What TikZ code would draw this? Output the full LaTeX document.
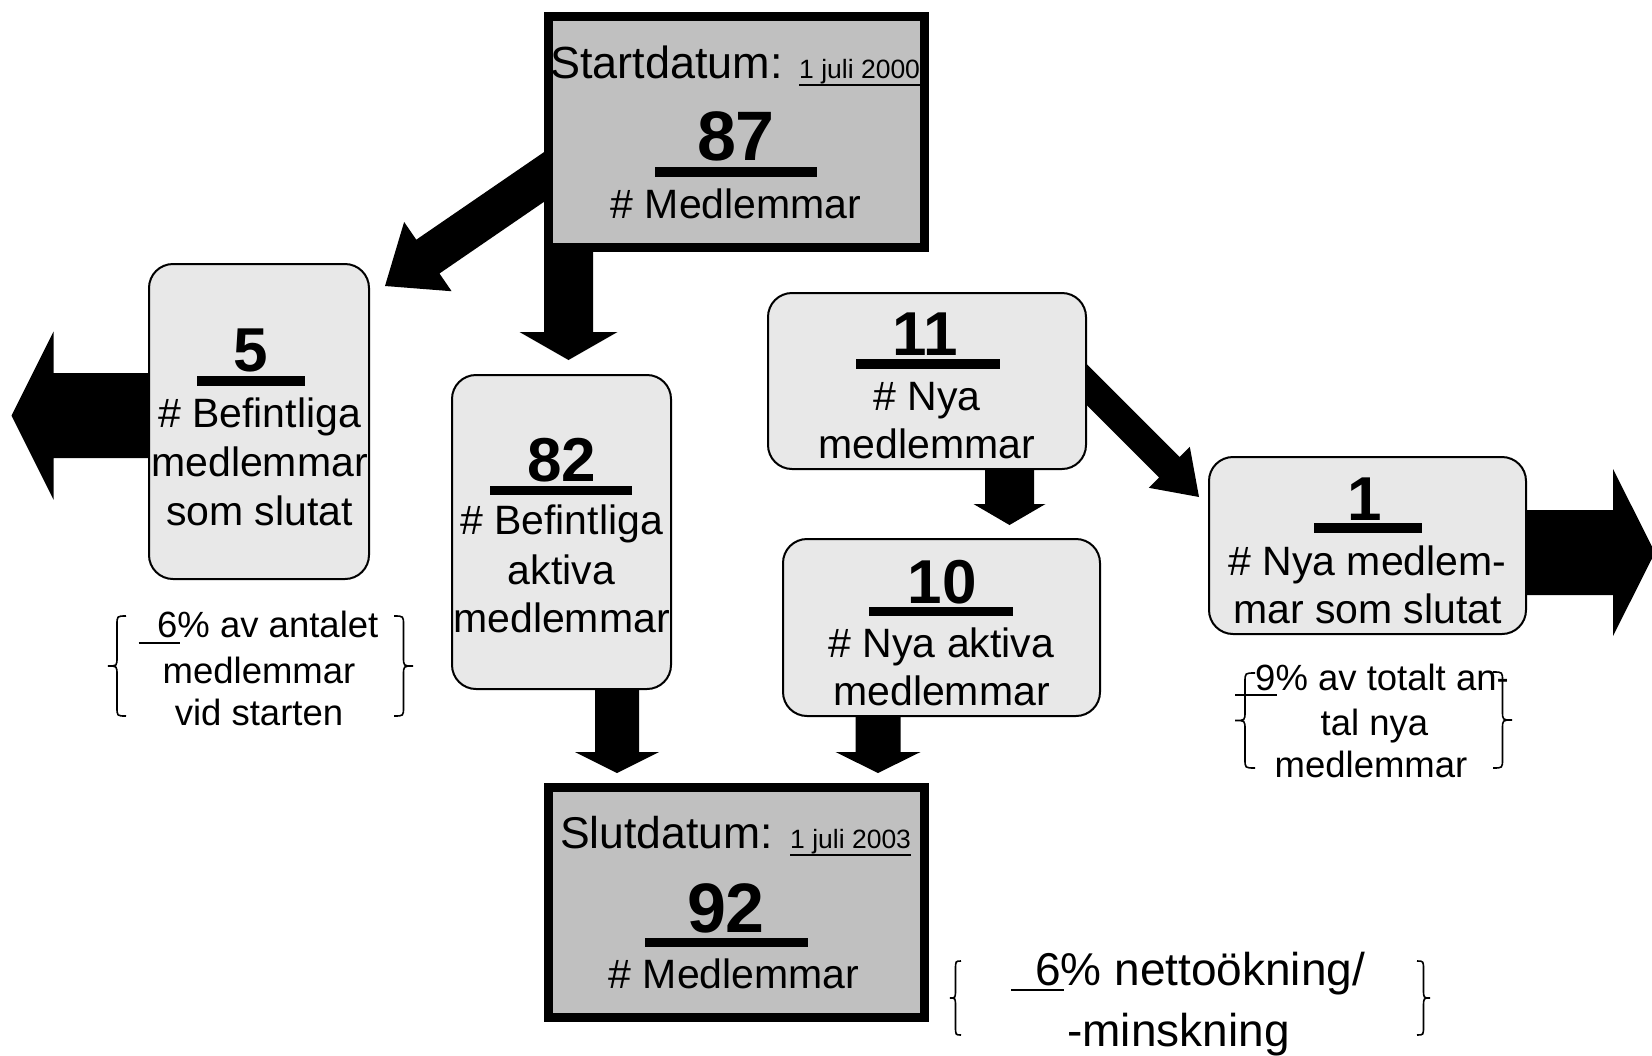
\documentclass[tikz,border=0pt]{standalone}
\usepackage{fontspec}
\setmainfont{Liberation Sans}
\usetikzlibrary{calc}
\definecolor{boxgray}{HTML}{C0C0C0}
\definecolor{softgray}{HTML}{E8E8E8}

\newcommand\blkarrow[5]{%
  \path let \p1=(#1), \p2=(#2) in
    \pgfextra{%
      \pgfmathsetmacro\baang{atan2(\y2-\y1,\x2-\x1)}%
      \pgfmathsetmacro\balen{veclen(\x2-\x1,\y2-\y1)}%
      \global\let\baangG\baang \global\let\balenG\balen}%
    ;
  \begin{scope}[shift={(#1)}, rotate=\baangG]
    \fill (0,#3) -- ({\balenG-#5},#3) -- ({\balenG-#5},#4) -- (\balenG,0)
      -- ({\balenG-#5},-#4) -- ({\balenG-#5},-#3) -- (0,-#3) -- cycle;
  \end{scope}%
}

\newcommand\mybrace[4]{%
  \pgfmathsetmacro\bxm{(#1+#2)/2}\pgfmathsetmacro\bym{(#3+#4)/2}%
  \draw[bracestyle] (#2,#3) .. controls (\bxm,#3) .. (\bxm,#3+9) -- (\bxm,\bym-9)
    .. controls (\bxm,\bym) .. (#1,\bym) .. controls (\bxm,\bym) .. (\bxm,\bym+9)
    -- (\bxm,#4-9) .. controls (\bxm,#4) .. (#2,#4);%
}

\begin{document}
\begin{tikzpicture}[x=1pt,y=-1pt,
  bigbox/.style={draw, line width=9pt, fill=boxgray, minimum width=376pt, minimum height=231pt, inner sep=0pt},
  softbox/.style={draw, line width=2pt, fill=softgray, rounded corners=24pt, inner sep=0pt},
  txt/.style={inner sep=0pt, anchor=base, font=\fontsize{41}{49}\selectfont},
  datetxt/.style={inner sep=0pt, anchor=base west, font=\fontsize{44.5}{52}\selectfont},
  smalldate/.style={inner sep=0pt, anchor=base west, font=\fontsize{26.5}{32}\selectfont},
  num/.style={inner sep=0pt, anchor=base, font=\bfseries\fontsize{62}{70}\selectfont},
  bignum/.style={inner sep=0pt, anchor=base, font=\bfseries\fontsize{70}{80}\selectfont},
  note/.style={inner sep=0pt, anchor=base, font=\fontsize{36.5}{44}\selectfont},
  bignote/.style={inner sep=0pt, anchor=base west, font=\fontsize{46}{54}\selectfont},
  bracestyle/.style={line width=1.6pt},
  uline/.style={line width=2pt}
]
\useasboundingbox (0,0) rectangle (1652,1055);

% block arrows (drawn first, boxes cover their tails)
\coordinate (a1s) at (560,166);   \coordinate (a1e) at (385,286);
\blkarrow{a1s}{a1e}{20.5}{42}{52}
\coordinate (a2s) at (568.5,240); \coordinate (a2e) at (568.5,360);
\blkarrow{a2s}{a2e}{24.5}{49}{28}
\coordinate (a3s) at (617,680);   \coordinate (a3e) at (617,773);
\blkarrow{a3s}{a3e}{22}{42}{21}
\coordinate (a4s) at (878,705);   \coordinate (a4e) at (878,773);
\blkarrow{a4s}{a4e}{22.5}{42.5}{21}
\coordinate (a5s) at (1009.5,460); \coordinate (a5e) at (1009.5,525);
\blkarrow{a5s}{a5e}{24.5}{36}{21}
\coordinate (a6s) at (1070,368);  \coordinate (a6e) at (1199,497);
\blkarrow{a6s}{a6e}{14.5}{29}{42}
\coordinate (a7s) at (200,415.5); \coordinate (a7e) at (11.5,415.5);
\blkarrow{a7s}{a7e}{42.5}{84}{42}
\coordinate (a8s) at (1400,552.5); \coordinate (a8e) at (1655,552.5);
\blkarrow{a8s}{a8e}{42.5}{83.5}{42}

% boxes
\node[bigbox] (start) at (736.5,132) {};
\node[bigbox, minimum height=230pt] (end) at (736.5,902.5) {};
\node[softbox, minimum width=220pt, minimum height=315pt] (b5) at (259,421.5) {};
\node[softbox, minimum width=219pt, minimum height=314pt] (b82) at (561.5,532) {};
\node[softbox, minimum width=318pt, minimum height=176pt] (b11) at (927,381) {};
\node[softbox, minimum width=317pt, minimum height=177pt] (b10) at (941.5,627.5) {};
\node[softbox, minimum width=317pt, minimum height=177pt] (b1) at (1367.5,545.5) {};

% start box text
\node[datetxt, font=\fontsize{45}{52}\selectfont] (sdlabel) at (550,78) {Startdatum:};
\node[smalldate] (sdate) at (799,78) {1 juli 2000};
\draw[uline] ($(sdate.base west)+(0,7)$) -- ($(sdate.base east)+(0,7)$);
\node[bignum] (n87) at (736,160) {87};
\fill ($(n87.base)+(-81,7)$) rectangle ($(n87.base)+(81,17)$);
\node[txt] (smed) at (736,218) {\# Medlemmar};

% end box text
\node[datetxt] (edlabel) at (560,848) {Slutdatum:};
\node[smalldate] (edate) at (790,848) {1 juli 2003};
\draw[uline] ($(edate.base west)+(0,7)$) -- ($(edate.base east)+(0,7)$);
\node[bignum] (n92) at (726,932) {92};
\fill ($(n92.base)+(-81,6)$) rectangle ($(n92.base)+(82,15)$);
\node[txt] (emed) at (734,988) {\# Medlemmar};

% box 5
\node[num] (n5) at (251,371.5) {5};
\fill ($(n5.base)+(-54,4.5)$) rectangle ($(n5.base)+(54,14.5)$);
\node[txt] (b5l1) at (259.5,427) {\# Befintliga};
\node[txt] (b5l2) at (259.5,476) {medlemmar};
\node[txt] (b5l3) at (259.5,525) {som slutat};

% box 82
\node[num] (n82) at (562,481) {82};
\fill ($(n82.base)+(-72,5)$) rectangle ($(n82.base)+(70,14)$);
\node[txt] (b82l1) at (561.5,534) {\# Befintliga};
\node[txt] (b82l2) at (561.5,584) {aktiva};
\node[txt] (b82l3) at (561.5,632) {medlemmar};

% box 11
\node[num] (n11) at (925,355) {11};
\fill ($(n11.base)+(-69,4)$) rectangle ($(n11.base)+(75,14)$);
\node[txt] (b11l1) at (927,410) {\# Nya};
\node[txt] (b11l2) at (927,458) {medlemmar};

% box 10
\node[num] (n10) at (942,603) {10};
\fill ($(n10.base)+(-73,4)$) rectangle ($(n10.base)+(71,13)$);
\node[txt] (b10l1) at (941.5,657) {\# Nya aktiva};
\node[txt] (b10l2) at (941.5,705) {medlemmar};

% box 1
\node[num] (n1) at (1365,520) {1};
\fill ($(n1.base)+(-51,3)$) rectangle ($(n1.base)+(57,13)$);
\node[txt] (b1l1) at (1367.5,575) {\# Nya medlem-};
\node[txt] (b1l2) at (1367.5,623) {mar som slutat};

% note left
\mybrace{108}{126}{616}{716}
\mybrace{413}{394}{616}{716}
\node[note, anchor=base west] (nl1) at (157,637.5) {6\% av antalet};
\draw[uline] (138.5,643) -- (180,643);
\node[note] (nl2) at (259,683) {medlemmar};
\node[note] (nl3) at (259,725.5) {vid starten};

% note right
\mybrace{1235}{1255}{673}{768}
\mybrace{1512}{1493}{672}{768}
\node[note, anchor=base west] (nr1) at (1255,690) {9\% av totalt an-};
\draw[uline] (1235,695) -- (1277,695);
\node[note] (nr2) at (1374.5,735) {tal nya};
\node[note] (nr3) at (1371,777) {medlemmar};

% note bottom
\mybrace{950}{961}{961}{1035}
\mybrace{1430}{1417}{961}{1035}
\node[bignote] (nb1) at (1035,985) {6\% nettoökning/};
\draw[uline] (1011,990) -- (1064,990);
\node[bignote] (nb2) at (1067,1046) {-minskning};
\end{tikzpicture}
\end{document}
